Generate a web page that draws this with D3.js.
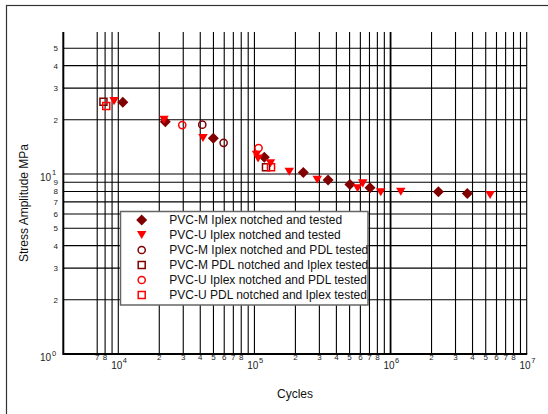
<!DOCTYPE html>
<html><head><meta charset="utf-8">
<script src="https://cdn.jsdelivr.net/npm/d3@7"></script>
<style>body{margin:0;background:#fff;}svg{display:block;font-family:"Liberation Sans",Arial,sans-serif;}</style>
</head><body>
<svg id="chart" width="548" height="414"></svg>
<script>
// ---- data ----
const seriesNames = [
  "PVC-M Iplex notched and tested",
  "PVC-U Iplex notched and tested",
  "PVC-M Iplex notched and PDL tested",
  "PVC-M PDL notched and Iplex tested",
  "PVC-U Iplex notched and PDL tested",
  "PVC-U PDL notched and Iplex tested"
];
const pvcMIplexCycles = [10800, 22150, 49900, 118200, 228600, 347500, 503000, 706000, 2244000, 3664000];
const pvcMIplexStress = [25.0, 19.5, 15.8, 12.4, 10.2, 9.26, 8.75, 8.39, 7.97, 7.80];
const pvcUIplexCycles = [9310, 21660, 41900, 103600, 106300, 131200, 180300, 289500, 572000, 624600, 847000, 1189000, 5385000];
const pvcUIplexStress = [25.4, 20.0, 15.85, 12.8, 12.2, 11.48, 10.3, 9.30, 8.34, 8.87, 7.92, 7.97, 7.64];
const pvcMIplexPdlCycles = [41400, 59400];
const pvcMIplexPdlStress = [18.8, 14.9];
const pvcMPdlIplexCycles = [7780, 121600];
const pvcMPdlIplexStress = [25.2, 10.9];
const pvcUIplexPdlCycles = [29500, 107200];
const pvcUIplexPdlStress = [18.7, 13.95];
const pvcUPdlIplexCycles = [8160, 132400];
const pvcUPdlIplexStress = [23.9, 10.9];

const xTickValues = [7000, 8000, 9000,
  1e4, 2e4, 3e4, 4e4, 5e4, 6e4, 7e4, 8e4, 9e4,
  1e5, 2e5, 3e5, 4e5, 5e5, 6e5, 7e5, 8e5, 9e5,
  1e6, 2e6, 3e6, 4e6, 5e6, 6e6, 7e6, 8e6, 9e6, 1e7];
const xTickLabels = ["7", "8", "",
  "10^4", "2", "3", "4", "5", "6", "7", "8", "",
  "10^5", "2", "3", "4", "5", "6", "7", "8", "",
  "10^6", "2", "3", "4", "5", "6", "7", "8", "", "10^7"];
const yTickValues = [1, 2, 3, 4, 5, 6, 7, 8, 9, 10, 20, 30, 40, 50];
const yTickLabels = ["10^0", "2", "3", "4", "5", "6", "7", "8", "9", "10^1", "2", "3", "4", "5"];

const xDomain = [3945, 1e7];
const yDomain = [1, 61.5];

// ---- layout ----
const svg = d3.select("#chart");
const L = 63.3, R = 526.7, T = 32, B = 354;
const x = d3.scaleLog().domain(xDomain).range([L, R]);
const y = d3.scaleLog().domain(yDomain).range([B, T]);
const dark = "#800000", red = "#ff0000";

// outer border
svg.append("rect").attr("x", 6.5).attr("y", 5.5).attr("width", 600).attr("height", 500)
  .attr("fill", "none").attr("stroke", "#333").attr("stroke-width", 1.2);

// grid lines
const g = svg.append("g");
g.selectAll("line.h").data(yTickValues.filter(v => v > 1)).join("line")
  .attr("x1", L).attr("x2", R).attr("y1", d => y(d)).attr("y2", d => y(d))
  .attr("stroke", "#000").attr("stroke-width", 1.1);
g.selectAll("line.v").data(xTickValues).join("line")
  .attr("x1", d => x(d)).attr("x2", d => x(d)).attr("y1", T).attr("y2", B)
  .attr("stroke", "#000").attr("stroke-width", d => d === 1e6 ? 1.8 : 1.1);
// axes
g.append("line").attr("x1", L).attr("x2", L).attr("y1", T).attr("y2", B + 1).attr("stroke", "#000").attr("stroke-width", 2);
g.append("line").attr("x1", L).attr("x2", R + 0.5).attr("y1", B).attr("y2", B).attr("stroke", "#000").attr("stroke-width", 2);

// tick labels
const lab = svg.append("g").attr("fill", "#222");
xTickValues.forEach((v, i) => {
  const t = xTickLabels[i];
  if (!t) return;
  const px = x(v);
  if (t.startsWith("10^")) {
    lab.append("text").attr("x", px + 4).attr("y", 369).attr("text-anchor", "end")
      .attr("font-size", 10).text("10");
    lab.append("text").attr("x", px + 4.5).attr("y", 362.5).attr("text-anchor", "start")
      .attr("font-size", 7.5).text(t.slice(3));
  } else {
    lab.append("text").attr("x", px).attr("y", 360).attr("text-anchor", "middle")
      .attr("font-size", 8).text(t);
  }
});
yTickValues.forEach((v, i) => {
  const t = yTickLabels[i];
  const py = y(v);
  if (t.startsWith("10^")) {
    lab.append("text").attr("x", 51).attr("y", py + 6.7).attr("text-anchor", "end")
      .attr("font-size", 10).text("10");
    lab.append("text").attr("x", 52).attr("y", py + 1.5).attr("text-anchor", "start")
      .attr("font-size", 7.5).text(t.slice(3));
  } else {
    lab.append("text").attr("x", 58).attr("y", py + 3).attr("text-anchor", "end")
      .attr("font-size", 8).text(t);
  }
});

// axis titles
svg.append("text").attr("transform", "translate(27.5," + ((T + B) / 2 + 10) + ") rotate(-90)")
  .attr("text-anchor", "middle").attr("font-size", 12).attr("fill", "#111").text("Stress Amplitude MPa");
svg.append("text").attr("x", (L + R) / 2).attr("y", 398).attr("text-anchor", "middle")
  .attr("font-size", 12).attr("fill", "#111").text("Cycles");

// markers
const diamondType = { draw(ctx, s) { const r = Math.sqrt(s) / 2; ctx.moveTo(0, -r); ctx.lineTo(r, 0); ctx.lineTo(0, r); ctx.lineTo(-r, 0); ctx.closePath(); } };
const triDownType = { draw(ctx, s) { const w = Math.sqrt(s) / 2; const h = w * 0.85; ctx.moveTo(-w, -h); ctx.lineTo(w, -h); ctx.lineTo(0, h); ctx.closePath(); } };
const marker = {
  diamond: (sel, c) => sel.attr("d", d3.symbol().type(diamondType).size(121)).attr("fill", c).attr("stroke", "none"),
  tri: (sel, c) => sel.attr("d", d3.symbol().type(triDownType).size(90)).attr("fill", c).attr("stroke", "none"),
  circle: (sel, c) => sel.attr("d", d3.symbol().type(d3.symbolCircle).size(Math.PI * 3.6 * 3.6)).attr("fill", "none").attr("stroke", c).attr("stroke-width", 1.5),
  square: (sel, c) => sel.attr("d", d3.symbol().type(d3.symbolSquare).size(49)).attr("fill", "none").attr("stroke", c).attr("stroke-width", 1.5)
};
const series = [
  { xs: pvcMIplexCycles, ys: pvcMIplexStress, m: "diamond", c: dark },
  { xs: pvcUIplexCycles, ys: pvcUIplexStress, m: "tri", c: red },
  { xs: pvcMIplexPdlCycles, ys: pvcMIplexPdlStress, m: "circle", c: dark },
  { xs: pvcMPdlIplexCycles, ys: pvcMPdlIplexStress, m: "square", c: dark },
  { xs: pvcUIplexPdlCycles, ys: pvcUIplexPdlStress, m: "circle", c: red },
  { xs: pvcUPdlIplexCycles, ys: pvcUPdlIplexStress, m: "square", c: red }
];
const pts = svg.append("g");
series.forEach(s => {
  const data = s.xs.map((v, i) => [v, s.ys[i]]);
  pts.append("g").selectAll("path").data(data).join("path")
    .attr("transform", d => "translate(" + x(d[0]) + "," + y(d[1]) + ")")
    .call(marker[s.m], s.c);
});

// legend
const lx = 120.5, ly = 211.5, lw = 247.5, lh = 93.5;
svg.append("clipPath").attr("id", "legclip").append("rect").attr("x", lx).attr("y", ly).attr("width", lw).attr("height", lh);
const leg = svg.append("g");
leg.append("rect").attr("x", lx).attr("y", ly).attr("width", lw).attr("height", lh)
  .attr("fill", "#fff").attr("stroke", "#666").attr("stroke-width", 1.5);
const lg = leg.append("g").attr("clip-path", "url(#legclip)");
series.forEach((s, i) => {
  const ry = 220 + i * 15;
  lg.append("path").attr("transform", "translate(141.7," + ry + ")").call(marker[s.m], s.c);
  lg.append("text").attr("x", 169.3).attr("y", ry + 4.3).attr("font-size", 12).attr("fill", "#111").text(seriesNames[i]);
});
</script>
</body></html>
